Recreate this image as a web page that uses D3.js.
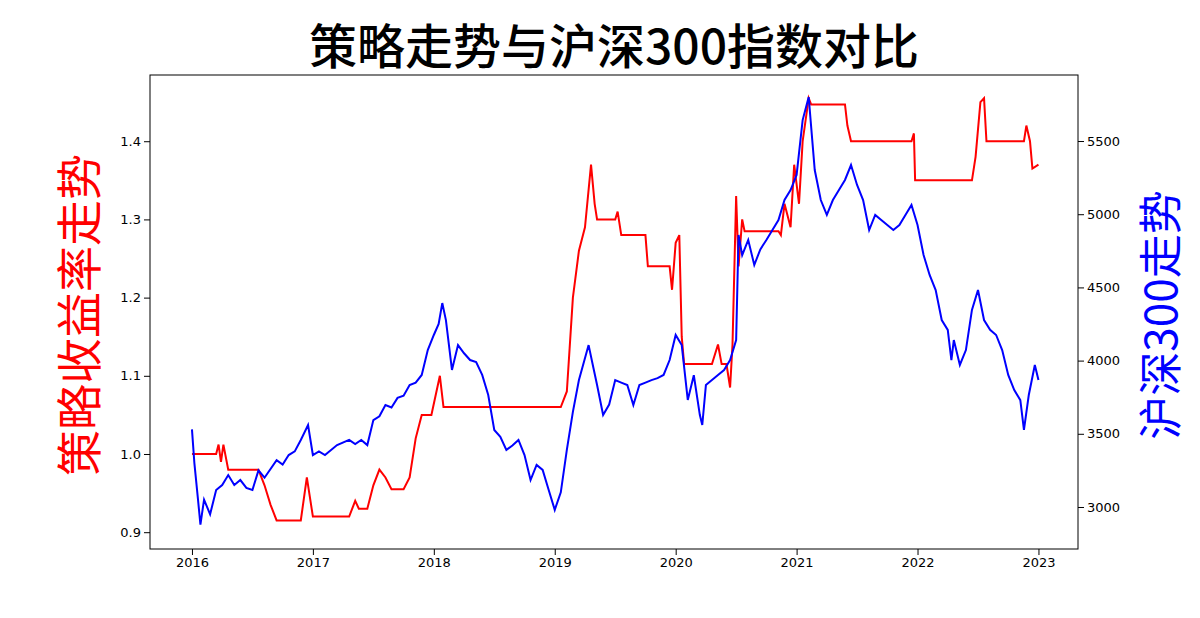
<!DOCTYPE html>
<html><head><meta charset="utf-8">
<script src="https://cdn.jsdelivr.net/npm/d3@7"></script>
<style>body{margin:0;background:#fff}text{font-family:"DejaVu Sans",sans-serif}</style>
</head><body>
<script>
// strategy cumulative return [year, value]
var strategy = [[2016.0,1.0],[2016.2,1.0],[2016.22,1.012],[2016.24,0.99],[2016.26,1.012],[2016.3,0.98],[2016.55,0.98],[2016.6,0.96],[2016.65,0.935],[2016.7,0.915],[2016.9,0.915],[2016.95,0.97],[2017.0,0.92],[2017.3,0.92],[2017.35,0.94],[2017.38,0.93],[2017.45,0.93],[2017.5,0.96],[2017.55,0.98],[2017.6,0.97],[2017.65,0.955],[2017.75,0.955],[2017.8,0.97],[2017.85,1.02],[2017.9,1.05],[2017.98,1.05],[2018.05,1.10],[2018.08,1.06],[2019.05,1.06],[2019.1,1.08],[2019.15,1.20],[2019.2,1.26],[2019.25,1.29],[2019.3,1.37],[2019.33,1.32],[2019.35,1.30],[2019.5,1.30],[2019.52,1.31],[2019.55,1.28],[2019.75,1.28],[2019.77,1.24],[2019.95,1.24],[2019.97,1.21],[2020.0,1.27],[2020.03,1.28],[2020.05,1.15],[2020.07,1.115],[2020.3,1.115],[2020.35,1.14],[2020.38,1.115],[2020.42,1.115],[2020.45,1.085],[2020.47,1.14],[2020.5,1.33],[2020.52,1.24],[2020.55,1.30],[2020.57,1.285],[2020.85,1.285],[2020.87,1.28],[2020.9,1.32],[2020.95,1.29],[2020.98,1.37],[2021.02,1.32],[2021.05,1.40],[2021.1,1.455],[2021.12,1.447],[2021.4,1.447],[2021.42,1.42],[2021.45,1.40],[2021.95,1.40],[2021.97,1.41],[2021.98,1.35],[2022.45,1.35],[2022.48,1.38],[2022.52,1.45],[2022.55,1.455],[2022.57,1.40],[2022.88,1.40],[2022.9,1.42],[2022.93,1.40],[2022.95,1.365],[2023.0,1.37]];
// CSI 300 index [year, value]
var csi300 = [[2016.0,3530],[2016.02,3300],[2016.05,3050],[2016.07,2880],[2016.1,3050],[2016.15,2950],[2016.2,3116],[2016.25,3150],[2016.3,3218],[2016.35,3150],[2016.4,3184],[2016.45,3130],[2016.5,3116],[2016.55,3250],[2016.6,3200],[2016.7,3320],[2016.75,3290],[2016.8,3355],[2016.85,3380],[2016.9,3458],[2016.96,3560],[2017.0,3355],[2017.05,3380],[2017.1,3355],[2017.2,3423],[2017.3,3458],[2017.35,3430],[2017.4,3458],[2017.45,3423],[2017.5,3594],[2017.55,3620],[2017.6,3697],[2017.65,3680],[2017.7,3745],[2017.75,3760],[2017.8,3833],[2017.85,3850],[2017.9,3902],[2017.95,4072],[2018.0,4175],[2018.04,4250],[2018.07,4393],[2018.1,4277],[2018.15,3936],[2018.2,4106],[2018.25,4050],[2018.3,4004],[2018.35,3990],[2018.4,3902],[2018.45,3765],[2018.5,3526],[2018.55,3480],[2018.6,3390],[2018.65,3420],[2018.7,3458],[2018.75,3355],[2018.8,3184],[2018.85,3287],[2018.9,3253],[2018.95,3116],[2019.0,2980],[2019.05,3100],[2019.1,3390],[2019.15,3650],[2019.2,3867],[2019.28,4106],[2019.32,3950],[2019.35,3833],[2019.4,3628],[2019.45,3700],[2019.5,3867],[2019.55,3850],[2019.6,3833],[2019.65,3697],[2019.7,3833],[2019.75,3850],[2019.8,3867],[2019.85,3880],[2019.9,3902],[2019.95,4004],[2020.0,4175],[2020.05,4106],[2020.1,3731],[2020.15,3900],[2020.2,3628],[2020.22,3560],[2020.25,3833],[2020.3,3867],[2020.35,3902],[2020.4,3936],[2020.45,4004],[2020.5,4140],[2020.52,4858],[2020.55,4720],[2020.6,4824],[2020.65,4653],[2020.7,4760],[2020.75,4824],[2020.8,4892],[2020.85,4960],[2020.9,5097],[2020.95,5165],[2021.0,5268],[2021.05,5643],[2021.1,5800],[2021.15,5302],[2021.2,5097],[2021.25,4995],[2021.3,5097],[2021.35,5165],[2021.4,5234],[2021.45,5336],[2021.5,5200],[2021.55,5097],[2021.6,4892],[2021.65,4995],[2021.7,4960],[2021.75,4926],[2021.8,4892],[2021.85,4926],[2021.9,4995],[2021.95,5063],[2022.0,4926],[2022.05,4721],[2022.1,4585],[2022.15,4482],[2022.2,4277],[2022.25,4210],[2022.28,4004],[2022.3,4140],[2022.35,3970],[2022.4,4072],[2022.45,4346],[2022.5,4482],[2022.55,4277],[2022.6,4210],[2022.65,4175],[2022.7,4072],[2022.75,3902],[2022.8,3799],[2022.85,3730],[2022.88,3526],[2022.92,3765],[2022.97,3970],[2023.0,3867]];
var yearTicks = [2016,2017,2018,2019,2020,2021,2022,2023];
var leftTicks = [0.9,1.0,1.1,1.2,1.3,1.4];
var rightTicks = [3000,3500,4000,4500,5000,5500];

var W = 1200, H = 618, L = 150, R = 1078, T = 75, B = 549;
var svg = d3.select("body").append("svg").attr("width", W).attr("height", H);

var x = d3.scaleLinear().domain([2015.653, 2023.327]).range([L, R]);
var yL = d3.scaleLinear().domain([0.8785, 1.4847]).range([B, T]);
var yR = d3.scaleLinear().domain([2713, 5951]).range([B, T]);

svg.append("g").attr("transform", "translate(0," + B + ")")
  .call(d3.axisBottom(x).tickValues(yearTicks).tickFormat(d3.format("d")).tickSizeOuter(0))
  .selectAll("text").attr("font-size", 13).attr("fill", "#000");
svg.append("g").attr("transform", "translate(" + L + ",0)")
  .call(d3.axisLeft(yL).tickValues(leftTicks).tickFormat(d3.format(".1f")).tickSizeOuter(0))
  .selectAll("text").attr("font-size", 13).attr("fill", "#000");
svg.append("g").attr("transform", "translate(" + R + ",0)")
  .call(d3.axisRight(yR).tickValues(rightTicks).tickFormat(d3.format("d")).tickSizeOuter(0))
  .selectAll("text").attr("font-size", 13).attr("fill", "#000");
svg.selectAll(".domain").remove();
svg.append("rect").attr("x", L).attr("y", T).attr("width", R - L).attr("height", B - T)
  .attr("fill", "none").attr("stroke", "#000");

var lineL = d3.line().x(function(d) { return x(d[0]); }).y(function(d) { return yL(d[1]); });
var lineR = d3.line().x(function(d) { return x(d[0]); }).y(function(d) { return yR(d[1]); });
svg.append("path").datum(strategy).attr("d", lineL).attr("fill", "none").attr("stroke", "red").attr("stroke-width", 2);
svg.append("path").datum(csi300).attr("d", lineR).attr("fill", "none").attr("stroke", "blue").attr("stroke-width", 2);

var cjk = '"Noto Sans CJK SC", sans-serif';
svg.append("text").attr("x", 614).attr("y", 64).attr("text-anchor", "middle")
  .style("font-family", cjk).attr("font-size", 48).attr("font-weight", 500).text("策略走势与沪深300指数对比");
svg.append("text").attr("transform", "translate(96,315) rotate(-90)").attr("text-anchor", "middle")
  .style("font-family", cjk).attr("font-size", 46).attr("fill", "red").text("策略收益率走势");
svg.append("text").attr("transform", "translate(1177,315) rotate(-90)").attr("text-anchor", "middle")
  .style("font-family", cjk).attr("font-size", 44).attr("fill", "blue").text("沪深300走势");
</script>
</body></html>
